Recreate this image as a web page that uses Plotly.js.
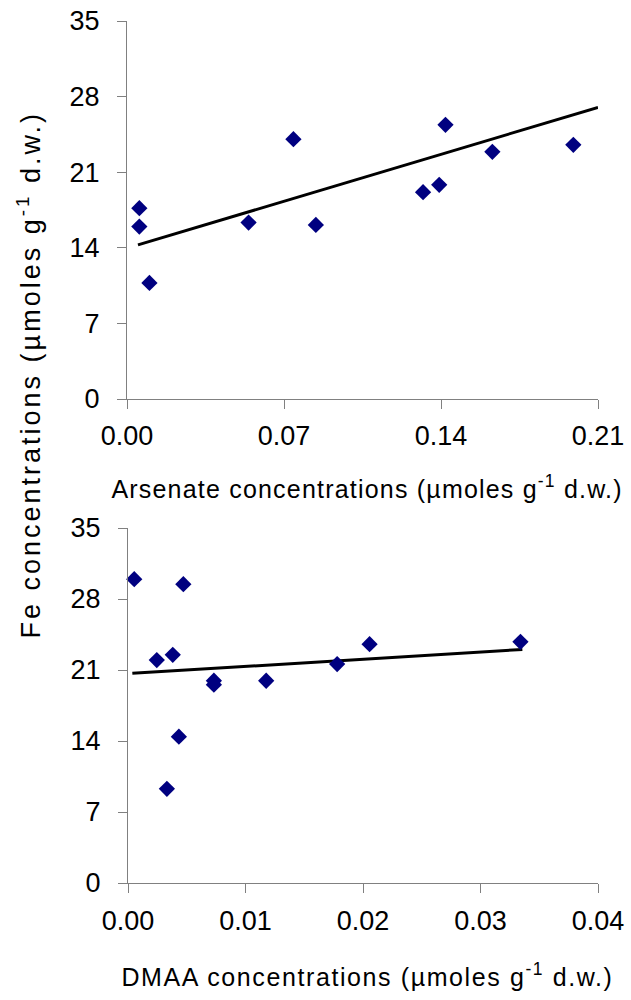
<!DOCTYPE html>
<html>
<head>
<meta charset="utf-8">
<script src="https://cdn.plot.ly/plotly-3.0.1.min.js"></script>
<style>html,body{margin:0;padding:0;background:#fff;}#chart{width:631px;height:1000px;}</style>
</head>
<body>
<div id="chart"></div>
<script>
// Top panel: arsenate vs Fe
const arsenateConc = [0.0055, 0.0055, 0.0100, 0.0542, 0.0742, 0.0842, 0.1320, 0.1392, 0.1420, 0.1629, 0.1990];
const arsenateFe   = [17.67, 15.97, 10.75, 16.34, 24.06, 16.12, 19.15, 19.83, 25.39, 22.89, 23.54];
const arsenateTrendX = [0.0049, 0.21];
const arsenateTrendY = [14.27, 27.0];
// Bottom panel: DMAA vs Fe
const dmaaConc = [0.00053, 0.00471, 0.00245, 0.00381, 0.00731, 0.00731, 0.01176, 0.00433, 0.00331, 0.0178, 0.02056, 0.0334];
const dmaaFe   = [29.95, 29.46, 21.98, 22.50, 19.94, 19.55, 19.94, 14.43, 9.28, 21.58, 23.55, 23.78];
const dmaaTrendX = [0.00037, 0.03356];
const dmaaTrendY = [20.67, 23.03];
// Tick values
const feTicks = [0, 7, 14, 21, 28, 35];
const arsenateTicks = [0, 0.07, 0.14, 0.21];
const dmaaTicks = [0, 0.01, 0.02, 0.03, 0.04];

const FONT = 'Liberation Sans, Arial, sans-serif';
const markerStyle = {symbol: 'diamond', size: 12.5, color: '#000080', line: {width: 0}};
const lineStyle = {color: '#000000', width: 3};

const traces = [
  {x: arsenateTrendX, y: arsenateTrendY, mode: 'lines', line: lineStyle, xaxis: 'x', yaxis: 'y', hoverinfo: 'skip'},
  {x: arsenateConc, y: arsenateFe, mode: 'markers', marker: markerStyle, xaxis: 'x', yaxis: 'y', cliponaxis: false},
  {x: dmaaTrendX, y: dmaaTrendY, mode: 'lines', line: lineStyle, xaxis: 'x2', yaxis: 'y2', hoverinfo: 'skip'},
  {x: dmaaConc, y: dmaaFe, mode: 'markers', marker: markerStyle, xaxis: 'x2', yaxis: 'y2', cliponaxis: false}
];

const axisCommon = {
  showgrid: false, zeroline: false, showline: true, linecolor: '#808080', linewidth: 1,
  ticks: 'outside', ticklen: 9, tickwidth: 1, tickcolor: '#808080',
  tickfont: {family: FONT, size: 27, color: '#000'}, fixedrange: true
};

const layout = {
  width: 631, height: 1000,
  margin: {l: 0, r: 0, t: 0, b: 0},
  paper_bgcolor: '#ffffff', plot_bgcolor: '#ffffff',
  showlegend: false,
  font: {family: FONT, color: '#000'},
  xaxis: Object.assign({}, axisCommon, {domain: [127/631, 598/631], range: [0, 0.21], tickvals: arsenateTicks, tickformat: '.2f', anchor: 'y', ticklabelstandoff: 4}),
  yaxis: Object.assign({}, axisCommon, {domain: [1 - 399/1000, 1 - 21/1000], range: [0, 35], tickvals: feTicks, anchor: 'x', ticklabelstandoff: 12}),
  xaxis2: Object.assign({}, axisCommon, {domain: [128/631, 598/631], range: [0, 0.04], tickvals: dmaaTicks, tickformat: '.2f', anchor: 'y2', ticklabelstandoff: 5}),
  yaxis2: Object.assign({}, axisCommon, {domain: [1 - 883/1000, 1 - 528/1000], range: [0, 35], tickvals: feTicks, anchor: 'x2', ticklabelstandoff: 12}),
  annotations: [
    {text: 'Arsenate concentrations (µmoles g<sup>-1</sup> d.w.)', xref: 'paper', yref: 'paper', x: 367/631, y: 1 - 487/1000, xanchor: 'center', yanchor: 'middle', showarrow: false, font: {family: FONT, size: 25, color: '#000'}},
    {text: 'DMAA concentrations (µmoles g<sup>-1</sup> d.w.)', xref: 'paper', yref: 'paper', x: 367/631, y: 1 - 975/1000, xanchor: 'center', yanchor: 'middle', showarrow: false, font: {family: FONT, size: 25, color: '#000'}},
    {text: 'Fe concentrations (µmoles g<sup>-1</sup> d.w.)', xref: 'paper', yref: 'paper', x: 29/631, y: 1 - 375/1000, xanchor: 'center', yanchor: 'middle', textangle: -90, showarrow: false, font: {family: FONT, size: 27, color: '#000'}}
  ]
};

Plotly.newPlot('chart', traces, layout, {displayModeBar: false, staticPlot: true}).then(function () {
  const spacing = ['1.2px', '1.6px', '3px'];
  document.querySelectorAll('#chart .annotation-text').forEach(function (el, i) {
    if (spacing[i]) el.style.letterSpacing = spacing[i];
  });
});
</script>
</body>
</html>
